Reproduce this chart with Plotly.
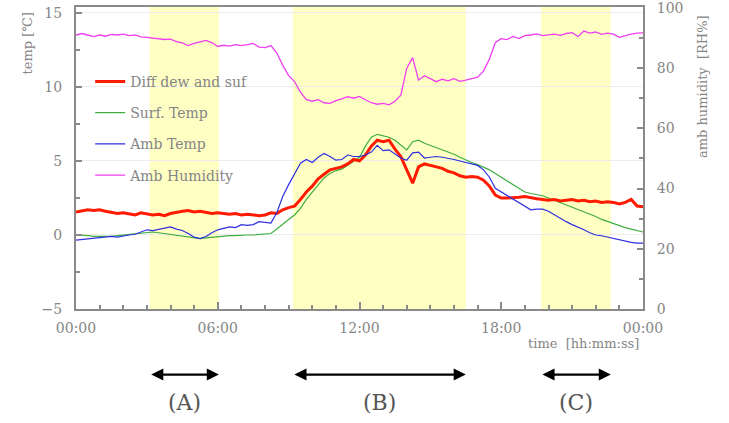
import numpy as np
import plotly.graph_objects as go

# 15-minute sampling grid (hours since 00:00)
hours = np.arange(0, 24.001, 0.25)

diff_dew_suf = [
    1.55, 1.6, 1.7, 1.65,   1.7, 1.6, 1.55, 1.45,   1.5, 1.45, 1.35, 1.5,
    1.45, 1.35, 1.4, 1.3,   1.45, 1.55, 1.6, 1.65,  1.55, 1.6, 1.5, 1.45,
    1.5, 1.45, 1.4, 1.45,   1.35, 1.4, 1.35, 1.3,   1.35, 1.5, 1.45, 1.7,
    1.85, 1.95, 2.4, 2.9,   3.3, 3.8, 4.1, 4.4,     4.5, 4.6, 4.8, 5.1,
    5.0, 5.4, 6.0, 6.4,     6.3, 6.4, 5.8, 5.3,     4.4, 3.5, 4.6, 4.8,
    4.7, 4.6, 4.5, 4.3,     4.2, 4.0, 3.9, 3.95,    3.9, 3.7, 3.3, 2.7,
    2.5, 2.5, 2.5, 2.55,    2.6, 2.5, 2.45, 2.4,    2.35, 2.4, 2.3, 2.35,
    2.4, 2.3, 2.35, 2.25,   2.3, 2.2, 2.25, 2.2,    2.1, 2.2, 2.4, 1.95,
    1.9,
]

surf_temp = [
    0.0, 0.0, -0.05, -0.1,  -0.1, -0.15, -0.1, -0.05, 0.0, 0.05, 0.1, 0.15,
    0.15, 0.2, 0.15, 0.1,   0.05, 0.0, -0.05, -0.15, -0.2, -0.25, -0.2, -0.15,
    -0.1, -0.1, -0.05, -0.05, 0.0, 0.0, 0.0, 0.05,  0.05, 0.1, 0.4, 0.75,
    1.05, 1.35, 1.8, 2.4,   2.9, 3.4, 3.85, 4.15,   4.35, 4.45, 4.7, 5.0,
    5.25, 6.0, 6.6, 6.8,    6.7, 6.6, 6.4, 6.1,     5.75, 6.3, 6.4, 6.2,
    6.05, 5.95, 5.8, 5.6,   5.45, 5.25, 5.05, 4.9,  4.75, 4.6, 4.4, 4.15,
    3.9, 3.65, 3.4, 3.1,    2.9, 2.8, 2.75, 2.65,   2.5, 2.35, 2.2, 2.0,
    1.85, 1.7, 1.55, 1.4,   1.25, 1.05, 0.9, 0.75,  0.6, 0.5, 0.4, 0.3,
    0.2,
]

amb_temp = [
    -0.35, -0.3, -0.3, -0.2, -0.2, -0.15, -0.1, -0.15, -0.05, 0.0, 0.05, 0.2,
    0.35, 0.3, 0.4, 0.45,   0.55, 0.4, 0.3, 0.1,    -0.15, -0.25, -0.1, 0.15,
    0.35, 0.45, 0.55, 0.5,  0.7, 0.65, 0.7, 0.9,    0.85, 0.8, 1.5, 2.6,
    3.4, 4.1, 4.85, 5.1,    4.9, 5.25, 5.5, 5.3,    5.05, 5.1, 5.4, 5.3,
    5.3, 5.4, 5.6, 6.05,    5.7, 5.75, 5.5, 5.2,    5.05, 5.55, 5.6, 5.2,
    5.25, 5.3, 5.25, 5.2,   5.1, 5.0, 4.9, 4.8,     4.7, 4.4, 3.9, 3.15,
    2.9, 2.65, 2.45, 2.2,   1.95, 1.7, 1.75, 1.75,  1.6, 1.35, 1.15, 0.9,
    0.7, 0.55, 0.35, 0.15,  0.0, -0.05, -0.15, -0.2, -0.3, -0.45, -0.5, -0.55,
    -0.55,
]

amb_humidity = [
    91.0, 91.5, 91.0, 90.5,  91.0, 90.6, 91.2, 91.0,  91.3, 90.8, 91.0, 90.4,
    90.2, 90.0, 89.8, 89.5,  89.6, 88.8, 88.4, 87.5,  88.2, 88.8, 89.2, 88.5,
    87.2, 87.6, 87.3, 87.8,  87.5, 87.8, 88.2, 87.0,  86.8, 87.5, 85.0, 81.0,
    77.5, 75.5, 72.0, 69.5,  69.0, 69.5, 68.5, 68.3,  69.2, 69.8, 70.5, 70.0,
    70.6, 69.5, 68.5, 68.0,  68.3, 67.8, 69.0, 71.0,  80.0, 83.5, 76.0, 77.5,
    76.5, 75.5, 76.3, 75.8,  76.5, 75.6, 76.0, 76.4,  77.0, 79.0, 83.0, 88.5,
    89.8, 89.5, 90.5, 89.8,  90.8, 91.0, 91.4, 90.8,  91.0, 91.3, 90.9, 91.5,
    91.8, 90.5, 92.3, 91.6,  92.0, 91.2, 91.6, 91.3,  90.2, 90.8, 91.3, 91.6,
    91.7,
]

x_tick_vals = [0, 6, 12, 18, 24]
x_tick_text = ["00:00", "06:00", "12:00", "18:00", "00:00"]
y2_tick_vals = [0, 20, 40, 60, 80, 100]

period_labels = ["(A)", "(B)", "(C)"]
period_start = [3.12, 9.18, 19.68]
period_end = [6.05, 16.5, 22.64]

FONT = "DejaVu Serif"
AXIS_GRAY = "#8a8a8a"
TEXT_GRAY = "#858585"

fig = go.Figure()

fig.add_trace(go.Scatter(x=hours, y=amb_humidity, name="Amb Humidity", yaxis="y2",
                         mode="lines", line=dict(color="#f03ef0", width=1.3),
                         legendgroup="d", legendrank=4))
fig.add_trace(go.Scatter(x=hours, y=surf_temp, name="Surf. Temp", mode="lines",
                         line=dict(color="#3fae3f", width=1.2),
                         legendgroup="b", legendrank=2))
fig.add_trace(go.Scatter(x=hours, y=diff_dew_suf, name="Diff dew and suf", mode="lines",
                         line=dict(color="#ff1a00", width=3),
                         legendgroup="a", legendrank=1))
fig.add_trace(go.Scatter(x=hours, y=amb_temp, name="Amb Temp", mode="lines",
                         line=dict(color="#2f2fe0", width=1.2),
                         legendgroup="c", legendrank=3))

shapes = []
annotations = []
for lab, s, e in zip(period_labels, period_start, period_end):
    shapes.append(dict(type="rect", xref="x", yref="paper", x0=s, x1=e, y0=0, y1=1,
                       fillcolor="#ffffc4", line=dict(width=0), layer="below"))
    annotations.append(dict(xref="x", yref="paper", x=e, y=-0.217, axref="x", ayref="pixel",
                            ax=s, ay=0, text="", showarrow=True, arrowside="end+start",
                            arrowhead=2, arrowsize=1.1, arrowwidth=2.2, arrowcolor="#000"))
    annotations.append(dict(xref="x", yref="paper", x=(s + e) / 2, y=-0.31, yanchor="middle",
                            text=lab, showarrow=False,
                            font=dict(family=FONT, size=22, color="#555")))

annotations.append(dict(xref="paper", yref="paper", x=-0.102, y=0.878, yanchor="middle",
                        text="temp [℃]", textangle=-90, showarrow=False,
                        font=dict(family=FONT, size=13, color=TEXT_GRAY)))
annotations.append(dict(xref="paper", yref="paper", x=1.122, y=0.737, yanchor="middle",
                        text="amb humidity  [RH%]", textangle=-90, showarrow=False,
                        font=dict(family=FONT, size=13, color=TEXT_GRAY)))
annotations.append(dict(xref="paper", yref="paper", x=0.996, y=-0.115, xanchor="right",
                        yanchor="middle", text="time  [hh:mm:ss]", showarrow=False,
                        font=dict(family=FONT, size=13, color=TEXT_GRAY)))

fig.update_layout(
    width=729, height=423,
    margin=dict(l=76, r=86, t=7, b=114, autoexpand=False),
    paper_bgcolor="white", plot_bgcolor="white",
    font=dict(family=FONT, size=14, color=TEXT_GRAY),
    shapes=shapes, annotations=annotations,
    legend=dict(x=0.025, y=0.805, xanchor="left", yanchor="top", bgcolor="rgba(0,0,0,0)",
                font=dict(family=FONT, size=14, color=TEXT_GRAY), tracegroupgap=10,
                itemwidth=30),
    xaxis=dict(range=[0, 24], tickmode="array", tickvals=x_tick_vals, ticktext=x_tick_text,
               ticks="inside", ticklen=7, tickwidth=1.5, tickcolor=AXIS_GRAY,
               minor=dict(tickmode="linear", tick0=0, dtick=1, ticks="inside", ticklen=4,
                          tickcolor=AXIS_GRAY, showgrid=False),
               showline=True, linecolor=AXIS_GRAY, linewidth=2, mirror=True,
               showgrid=False, zeroline=False, ticklabelstandoff=5, automargin=False,
               tickfont=dict(size=14, color=TEXT_GRAY)),
    yaxis=dict(range=[-5, 15.4], dtick=5, tick0=0, ticks="inside", ticklen=6, tickwidth=1.5,
               tickcolor=AXIS_GRAY,
               minor=dict(dtick=2.5, ticks="inside", ticklen=4, tickcolor=AXIS_GRAY, showgrid=False),
               showline=True, linecolor=AXIS_GRAY, linewidth=2, showgrid=True,
               gridcolor="#ececec", zeroline=False, ticklabelstandoff=9, automargin=False,
               tickfont=dict(size=14, color=TEXT_GRAY)),
    yaxis2=dict(range=[0, 100.3], tickmode="array", tickvals=y2_tick_vals,
                overlaying="y", side="right", ticks="inside",
                ticklen=6, tickwidth=1.5, tickcolor=AXIS_GRAY, ticklabeloverflow="allow",
                minor=dict(tickmode="linear", tick0=0, dtick=10, ticks="inside", ticklen=4,
                           tickcolor=AXIS_GRAY, showgrid=False),
                showline=True, linecolor=AXIS_GRAY, linewidth=2, showgrid=False,
                zeroline=False, ticklabelstandoff=9, automargin=False,
                tickfont=dict(size=14, color=TEXT_GRAY)),
)

fig.write_html("out.html")
